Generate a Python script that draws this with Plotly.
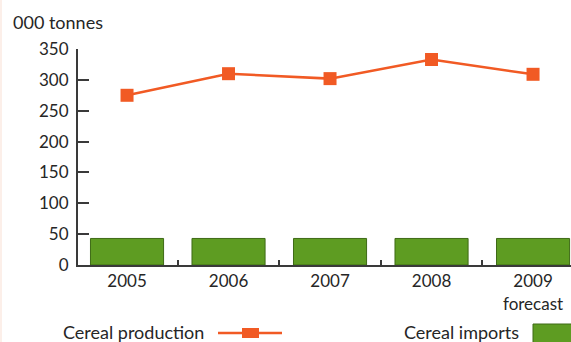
import plotly.graph_objects as go

# data
years = ["2005", "2006", "2007", "2008", "2009<br>forecast"]
production = [275, 310, 302, 333, 309]
imports = [43, 43, 43, 43, 43]

W, H = 571, 342
L, R, T, B = 78, 0, 49, 77
ORANGE = "#F15A24"
GREEN = "#5E9C22"
GREEN_EDGE = "#3E6A16"
AXIS = "#3a3a3a"
FONT = "Lato"


def px_x(p):
    # pixel x -> paper x
    return (p - L) / (W - L - R)


def px_y(p):
    # pixel y -> paper y
    return (H - B - p) / (H - T - B)


xs = list(range(len(years)))

fig = go.Figure()
fig.add_trace(go.Bar(
    x=xs, y=imports, name="Cereal imports",
    marker=dict(color=GREEN, line=dict(color=GREEN_EDGE, width=1)),
    width=0.72,
))
fig.add_trace(go.Scatter(
    x=xs, y=production, name="Cereal production", mode="lines+markers",
    line=dict(color=ORANGE, width=2.5),
    marker=dict(symbol="square", size=13, color=ORANGE),
))

fig.update_layout(
    width=W, height=H,
    margin=dict(l=L, r=R, t=T, b=B),
    paper_bgcolor="white", plot_bgcolor="white",
    showlegend=False,
    font=dict(family=FONT, size=18, color="#262626"),
)
fig.update_xaxes(
    range=[-0.483, 4.374],
    tickvals=xs, ticktext=years, tickfont=dict(size=17),
    ticks="", showgrid=False, zeroline=False,
    showline=True, linecolor=AXIS, linewidth=2,
    minor=dict(tickvals=[0.5, 1.5, 2.5, 3.5], ticks="inside",
               ticklen=5, tickwidth=2, tickcolor=AXIS),
)
fig.update_yaxes(
    range=[0, 350], tickvals=[0, 50, 100, 150, 200, 250, 300, 350],
    tickfont=dict(size=17), ticklabelstandoff=4,
    ticks="inside", ticklen=11, tickwidth=2, tickcolor=AXIS,
    showgrid=False, zeroline=False,
    showline=True, linecolor=AXIS, linewidth=2,
)

# axis unit label
fig.add_annotation(text="000 tonnes", xref="paper", yref="paper",
                   x=px_x(11), y=px_y(22), xanchor="left", yanchor="middle",
                   showarrow=False)

# hand-built legend: text first, key on the right
fig.add_annotation(text="Cereal production", xref="paper", yref="paper",
                   x=px_x(206), y=px_y(332), xanchor="right", yanchor="middle",
                   showarrow=False)
fig.add_shape(type="line", xref="paper", yref="paper",
              x0=px_x(218), x1=px_x(282), y0=px_y(333), y1=px_y(333),
              line=dict(color=ORANGE, width=2.5))
fig.add_shape(type="rect", xref="paper", yref="paper",
              x0=px_x(242), x1=px_x(259), y0=px_y(328), y1=px_y(338),
              line=dict(width=0), fillcolor=ORANGE)
fig.add_annotation(text="Cereal imports", xref="paper", yref="paper",
                   x=px_x(521), y=px_y(332), xanchor="right", yanchor="middle",
                   showarrow=False)
fig.add_shape(type="rect", xref="paper", yref="paper",
              x0=px_x(533), x1=px_x(576), y0=px_y(324), y1=px_y(346),
              line=dict(color=GREEN_EDGE, width=1), fillcolor=GREEN)

# faint frame line on the left edge
fig.add_shape(type="line", xref="paper", yref="paper",
              x0=px_x(1), x1=px_x(1), y0=px_y(0), y1=px_y(342),
              line=dict(color="#FBEAE2", width=1.5))

# the page body has a default 8px margin; drop it so the figure fills the window
fig.write_html("out.html", config={"displayModeBar": False},
               post_script="document.body.style.margin='0';document.body.style.overflow='hidden';")
